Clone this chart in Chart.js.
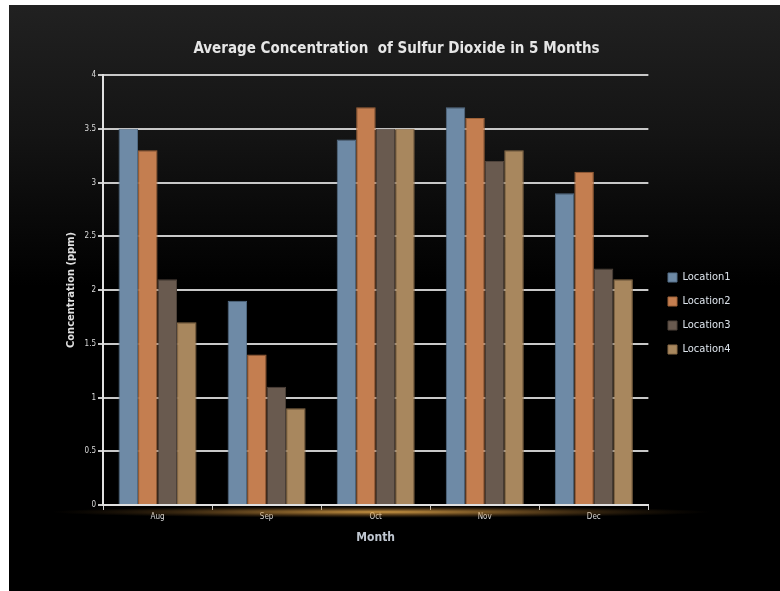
<!DOCTYPE html>
<html>
<head>
<meta charset="utf-8">
<script src="https://cdn.jsdelivr.net/npm/chart.js@4/dist/chart.umd.min.js"></script>
<style>
  html, body { margin: 0; padding: 0; background: #fff; }
  #panel {
    position: absolute; left: 9px; top: 5px; width: 771px; height: 586px;
    background: linear-gradient(to bottom, #212121 0%, #141414 22%, #000 48%, #000 100%);
  }
</style>
</head>
<body>
<div id="panel"><canvas id="barChart" width="771" height="586"></canvas></div>
<script>
const CHART = document.getElementById("barChart");
const NARROW = "'Liberation Sans Narrow', 'DejaVu Sans Condensed', 'Arial Narrow', sans-serif";

// data
const months = ['Aug', 'Sep', 'Oct', 'Nov', 'Dec'];
const location1 = [3.5, 1.9, 3.4, 3.7, 2.9];
const location2 = [3.3, 1.4, 3.7, 3.6, 3.1];
const location3 = [2.1, 1.1, 3.5, 3.2, 2.2];
const location4 = [1.7, 0.9, 3.5, 3.3, 2.1];
const yTicks = [0, 0.5, 1, 1.5, 2, 2.5, 3, 3.5, 4];

const seriesNames = ['Location1', 'Location2', 'Location3', 'Location4'];
const seriesValues = [location1, location2, location3, location4];
const fills = ['#6e8aa6', '#c47e50', '#695a4f', '#a8875e'];
const edges = ['#556f88', '#9f6238', '#4f433b', '#8a6c48'];

var data = {
    labels: months,
    datasets: seriesNames.map((name, i) => ({
        label: name,
        data: seriesValues[i],
        backgroundColor: fills[i],
        borderColor: edges[i],
        borderWidth: 1,
        categoryPercentage: 0.715,
        barPercentage: 1
    }))
};

// golden glow under the x axis
const glow = {
    id: 'glow',
    beforeDatasetsDraw(chart) {
        const ctx = chart.ctx, a = chart.chartArea;
        ctx.save();
        ctx.translate(372, a.bottom + 7);
        ctx.scale(1, 0.018);
        const g = ctx.createRadialGradient(0, 0, 0, 0, 0, 330);
        g.addColorStop(0, 'rgba(235,175,80,0.85)');
        g.addColorStop(0.5, 'rgba(200,140,60,0.4)');
        g.addColorStop(1, 'rgba(120,80,30,0)');
        ctx.fillStyle = g;
        ctx.beginPath();
        ctx.arc(0, 0, 330, 0, Math.PI * 2);
        ctx.fill();
        ctx.restore();
    }
};

// put the legend and title where the reference has them
const legendSpot = {
    id: 'legendSpot',
    afterLayout(chart) {
        const lg = chart.legend;
        const dx = 646 - lg.left, dy = 254 - lg.top;
        lg.left += dx; lg.right += dx;
        lg.top += dy; lg.bottom += dy;
        const tb = chart.titleBlock;
        tb.left += 25; tb.right += 25;
    }
};

let barChart = new Chart(CHART, {
    type: 'bar',
    data,
    plugins: [glow, legendSpot],
    options: {
        responsive: false,
        animation: false,
        layout: { padding: { top: 0, right: 46, bottom: 0, left: 0 } },
        plugins: {
            title: {
                display: true,
                text: 'Average Concentration  of Sulfur Dioxide in 5 Months',
                color: '#e6e6e6',
                font: { family: NARROW, size: 15, weight: 'bold' },
                padding: { top: 35, bottom: 17 }
            },
            legend: {
                position: 'right',
                align: 'start',
                labels: {
                    color: '#dde4ec',
                    font: { family: NARROW, size: 11 },
                    boxWidth: 9,
                    boxHeight: 9,
                    padding: 13
                }
            },
            tooltip: { enabled: false }
        },
        scales: {
            x: {
                afterFit(scale) { scale.height = 86; },
                grid: { display: true, drawOnChartArea: false, offset: true, tickLength: 5, color: '#d0d0d0', lineWidth: 1 },
                border: { color: '#e0e0e0', width: 2 },
                ticks: { color: '#dcdcdc', font: { family: NARROW, size: 8 }, padding: 2 },
                title: {
                    display: true, text: 'Month', color: '#bfc6d0',
                    font: { family: NARROW, size: 12, weight: 'bold' },
                    padding: { top: 4, bottom: 46 }
                }
            },
            y: {
                min: 0, max: 4,
                afterFit(scale) { scale.width = 94; },
                afterBuildTicks(scale) { scale.ticks = yTicks.map(v => ({ value: v })); },
                grid: { color: '#c8c8c8', lineWidth: 2, tickLength: 5 },
                border: { color: '#e0e0e0', width: 2 },
                ticks: { color: '#dcdcdc', font: { family: NARROW, size: 8 }, padding: 2, callback: v => String(v) },
                title: {
                    display: true, text: 'Concentration (ppm)', color: '#e0e0e0',
                    font: { family: NARROW, size: 11, weight: 'bold' },
                    padding: { top: 56 }
                }
            }
        }
    }
});
</script>
</body>
</html>
